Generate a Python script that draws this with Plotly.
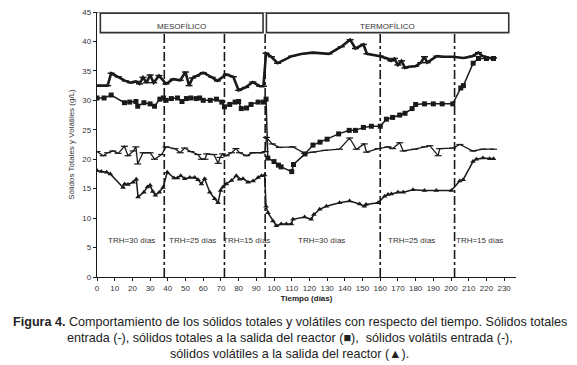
import plotly.graph_objects as go

# ---------------- data ----------------
ts_in_days = [0, 6, 8, 12, 16, 19, 22, 24, 26, 28, 30, 32, 35, 39, 43, 47, 50, 52, 54, 56,
              60, 65, 68, 73, 77, 80, 84, 88, 92, 94, 95.5, 98.5, 102, 110, 116, 122, 131,
              138, 143, 146, 150.5, 152.5, 160, 164, 166, 168, 170, 172, 174, 176, 180, 183,
              185, 186.5, 192, 196, 201, 207, 212, 215.5, 218, 221, 224]
ts_in_vals = [32.5, 32.5, 34.6, 34.0, 33.3, 33.0, 33.2, 32.8, 33.9, 33.0, 34.3, 33.0, 34.2,
              32.8, 33.6, 33.4, 34.8, 32.5, 33.8, 34.1, 34.7, 33.9, 33.3, 34.4, 34.0, 31.7,
              32.2, 33.1, 32.4, 32.4, 38.0, 37.4, 36.3, 37.5, 37.9, 38.1, 37.9, 39.1, 40.3,
              38.8, 39.5, 37.9, 37.5, 37.1, 36.7, 37.1, 36.0, 36.7, 35.5, 35.7, 35.8, 36.4,
              37.4, 36.4, 37.5, 37.4, 37.4, 37.2, 37.5, 38.1, 37.5, 37.2, 37.2]

ts_out_days = [0, 4, 8, 15.5, 18.5, 22, 23, 26.5, 30, 32.5, 35.5, 37.5, 39, 42, 45.5, 48,
               50.5, 53, 56, 58, 60, 64, 67.5, 70.5, 72, 75, 78, 80, 81.5, 84.5, 87, 91, 94,
               95.5, 96.5, 100, 102.5, 104, 110, 111, 117.5, 122, 126, 130, 136.5, 142.5,
               146, 150.5, 155, 160, 163.5, 167, 171, 174, 178, 180, 185, 190, 195, 201,
               205.5, 207, 212.5, 215.5, 220, 224]
ts_out_vals = [30.4, 30.4, 30.9, 29.6, 29.7, 29.8, 29.0, 29.6, 29.4, 29.0, 30.2, 30.4, 30.0,
               30.3, 30.4, 29.8, 30.3, 30.4, 30.3, 30.4, 30.0, 30.0, 30.2, 29.7, 28.9, 29.3,
               29.7, 29.8, 28.6, 28.7, 29.3, 29.7, 29.7, 30.2, 20.2, 19.6, 19.0, 18.7, 17.9,
               19.1, 20.9, 22.4, 22.9, 23.4, 24.3, 24.9, 24.9, 25.4, 25.6, 25.6, 26.8, 27.1,
               27.5, 27.8, 28.6, 29.3, 29.4, 29.4, 29.4, 29.4, 32.1, 32.5, 36.3, 37.1, 37.1,
               37.1]

vs_in_days = [0, 3.5, 6, 9, 12, 15.5, 17.5, 20.5, 22, 23, 26, 30, 32.5, 36.5, 39, 44, 47,
              49.5, 53, 57, 59, 61, 62, 66, 68.5, 69.5, 71, 73, 76, 78.5, 80.5, 84.5, 88, 93,
              95, 95.7, 99, 103, 110.7, 117.3, 122, 128.6, 137, 142.7, 146.5, 151, 152.2,
              158.8, 164.4, 167, 171, 173, 179.5, 185, 188, 192.7, 193.6, 201, 205, 212.4,
              218, 224]
vs_in_vals = [21.3, 20.6, 21.1, 21.4, 21.0, 22.2, 20.6, 21.4, 22.1, 19.2, 21.1, 21.1, 20.0,
              20.8, 22.1, 21.8, 21.1, 21.9, 21.3, 20.8, 20.0, 20.0, 20.9, 20.8, 19.3, 20.3,
              20.9, 20.6, 21.1, 21.8, 21.1, 20.6, 21.1, 21.1, 21.3, 23.7, 22.6, 22.0, 22.1,
              21.0, 21.2, 21.5, 21.7, 23.6, 21.7, 22.6, 21.2, 21.8, 22.1, 21.8, 22.8, 21.4,
              21.7, 22.1, 22.3, 20.6, 21.8, 21.9, 22.5, 21.4, 21.7, 21.7]

vs_out_days = [0, 2.5, 5.5, 7.5, 14.7, 15.6, 17.5, 20.4, 22.2, 23.2, 26.5, 28.5, 30, 31.5,
               33, 35.2, 37.3, 39.7, 43.5, 45.5, 47.3, 49.5, 52.4, 55.2, 57.1, 59, 60.8,
               63.7, 66.5, 68.4, 69.8, 71.2, 73.1, 76, 78.7, 80.5, 82.5, 85.3, 88.2, 91,
               92.9, 94.7, 95.5, 96.6, 99.4, 101.3, 104, 107, 109.8, 110.7, 117.3, 121,
               122.5, 125.8, 129.6, 137, 142.7, 148.4, 151, 152, 158.8, 162.5, 164.4, 166.3,
               170, 173, 178.5, 185, 191.7, 200.2, 204.9, 206.8, 212.4, 214.3, 218, 221.8, 224]
vs_out_vals = [18.1, 17.9, 17.8, 17.5, 15.2, 15.8, 15.7, 16.1, 16.6, 13.6, 14.4, 15.3, 15.6,
               14.5, 13.9, 14.4, 15.2, 17.8, 16.8, 16.8, 17.2, 16.7, 16.9, 16.9, 16.5, 15.8,
               16.7, 14.4, 13.3, 12.6, 14.7, 15.3, 15.8, 16.4, 17.2, 16.6, 16.7, 16.1, 16.3,
               16.9, 17.2, 17.3, 12.0, 10.9, 9.5, 8.7, 9.0, 9.0, 9.0, 9.8, 10.2, 9.8, 10.6,
               11.5, 12.0, 12.6, 12.9, 12.4, 12.0, 12.3, 12.6, 13.7, 14.0, 14.1, 14.4, 14.4,
               14.8, 14.7, 14.7, 14.7, 16.3, 16.5, 19.6, 20.0, 20.2, 20.1, 20.1]

trh_boundaries = [38, 72, 95, 160, 202]
phase_names = ["MESOFÍLICO", "TERMOFÍLICO"]
phase_spans = [(1.9, 93.8), (95.7, 232.6)]
trh_labels = ["TRH=30 días", "TRH=25 días", "TRH=15 días",
              "TRH=30 días", "TRH=25 días", "TRH=15 días"]
trh_label_pos = [19.4, 54.2, 84.4, 126.8, 177.6, 216.0]

assert len(ts_in_days) == len(ts_in_vals)
assert len(ts_out_days) == len(ts_out_vals)
assert len(vs_in_days) == len(vs_in_vals)
assert len(vs_out_days) == len(vs_out_vals)

FONT = "Liberation Sans, Arial, sans-serif"
INK = "#1a1a1a"

fig = go.Figure()

fig.add_trace(go.Scatter(x=vs_in_days, y=vs_in_vals, mode="lines+markers",
                         line=dict(color=INK, width=1.3),
                         marker=dict(symbol="line-ew", size=5, line=dict(color=INK, width=1.2)),
                         name="Sólidos volátiles entrada"))
fig.add_trace(go.Scatter(x=vs_out_days, y=vs_out_vals, mode="lines+markers",
                         line=dict(color=INK, width=1.5),
                         marker=dict(symbol="triangle-up", size=5, color=INK),
                         name="Sólidos volátiles salida"))
fig.add_trace(go.Scatter(x=ts_out_days, y=ts_out_vals, mode="lines+markers",
                         line=dict(color=INK, width=1.5),
                         marker=dict(symbol="square", size=5, color=INK),
                         name="Sólidos totales salida"))
fig.add_trace(go.Scatter(x=ts_in_days, y=ts_in_vals, mode="lines+markers",
                         line=dict(color=INK, width=2.6),
                         marker=dict(symbol="line-ew", size=5, line=dict(color=INK, width=1.5)),
                         name="Sólidos totales entrada"))

shapes = []
for b in trh_boundaries:
    shapes.append(dict(type="line", xref="x", yref="y", x0=b, x1=b, y0=0, y1=41.5,
                       line=dict(color=INK, width=1.6, dash="dashdot")))
for (a, b) in phase_spans:
    shapes.append(dict(type="rect", xref="x", yref="y", x0=a, x1=b, y0=41.5, y1=44.8,
                       line=dict(color="#333333", width=1.6), fillcolor="rgba(0,0,0,0)"))
shapes.append(dict(type="line", xref="x", yref="y", x0=0, x1=phase_spans[-1][1], y0=45, y1=45,
                   line=dict(color="#333333", width=1.2)))

annotations = []
for name, (a, b) in zip(phase_names, phase_spans):
    annotations.append(dict(x=(a + b) / 2, y=42.6, xref="x", yref="y", text=name,
                            showarrow=False, font=dict(family=FONT, size=8, color="#333")))
for t, p in zip(trh_labels, trh_label_pos):
    annotations.append(dict(x=p, y=6.2, xref="x", yref="y", text=t, showarrow=False,
                            font=dict(family=FONT, size=8, color="#333")))

caption = [
    "<b>Figura 4.</b> Comportamiento de los sólidos totales y volátiles con respecto del tiempo. Sólidos totales",
    "entrada (-), sólidos totales a la salida del reactor (■),  sólidos volátils entrada (-),",
    "sólidos volátiles a la salida del reactor (▲).",
]
cap_y = [-0.171, -0.2305, -0.29]
for t, yy in zip(caption, cap_y):
    annotations.append(dict(x=0.4606, y=yy, xref="paper", yref="paper", text=t,
                            showarrow=False, xanchor="center", yanchor="middle",
                            font=dict(family=FONT, size=12.6, color="#222")))

fig.update_layout(
    width=577, height=365,
    margin=dict(l=97, r=61, t=8, b=88),
    paper_bgcolor="white", plot_bgcolor="white",
    showlegend=False,
    shapes=shapes, annotations=annotations,
    font=dict(family=FONT, size=8, color="#333"),
    xaxis=dict(range=[0, 236.7], dtick=10, tick0=0, showline=True, linecolor=INK,
               linewidth=1.3, ticks="outside", ticklen=3, tickcolor=INK,
               showgrid=False, zeroline=False,
               tickfont=dict(family=FONT, size=8, color="#333"),
               title=dict(text="<b>Tiempo (días)</b>", standoff=3,
                          font=dict(family=FONT, size=8, color="#222"))),
    yaxis=dict(range=[0, 45], dtick=5, tick0=0, showline=True, linecolor=INK,
               linewidth=1.3, ticks="outside", ticklen=3, tickcolor=INK,
               showgrid=False, zeroline=False,
               tickfont=dict(family=FONT, size=8, color="#333"),
               title=dict(text="Sólidos Totales y Volátiles (g/L)", standoff=6,
                          font=dict(family=FONT, size=8, color="#333"))),
)

fig.write_html("out.html", config={"displayModeBar": False},
               post_script="document.body.style.margin='0';document.body.style.padding='0';")
